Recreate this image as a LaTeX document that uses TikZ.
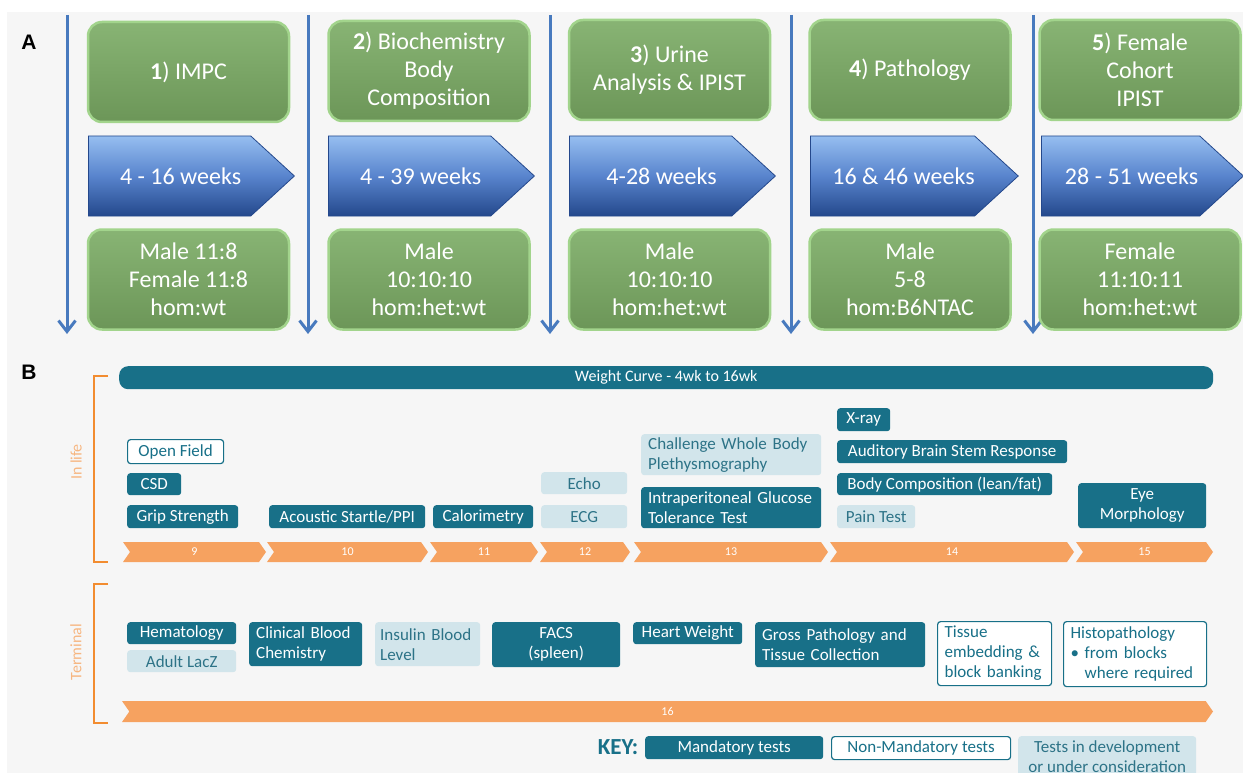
\documentclass[tikz,border=0pt]{standalone}
\usepackage{fontspec}
\setmainfont{Carlito}
\newfontfamily\panelfont{Liberation Sans}
\usetikzlibrary{
        arrows.meta,
        shapes.symbols
    }

\definecolor{bggray}{RGB}{246,246,246}
\definecolor{mandteal}{RGB}{24,112,136}
\definecolor{devfill}{RGB}{210,229,235}
\definecolor{devtext}{RGB}{45,115,135}
\definecolor{chevorange}{RGB}{246,162,96}
\definecolor{brkorange}{RGB}{242,140,48}
\definecolor{lblorange}{RGB}{246,182,128}
\definecolor{grntop}{RGB}{136,180,116}
\definecolor{grnbot}{RGB}{108,150,88}
\definecolor{grnedge}{RGB}{162,212,140}
\definecolor{arrowblue}{RGB}{72,122,190}
\definecolor{pentop}{RGB}{150,190,240}
\definecolor{penmid}{RGB}{88,132,205}
\definecolor{penbot}{RGB}{36,72,140}

\tikzset{x=1pt,y=-1pt}
% panel A: study stages
\tikzset{
    stage/.style={rounded corners=14pt,draw=grnedge,line width=2.5pt,
        top color=grntop,bottom color=grnbot,text=white,align=center,
        font=\fontsize{24}{28}\selectfont,minimum width=201,minimum height=100,inner sep=0pt},
    weeks/.style={signal,signal to=east,signal pointer angle=85,draw=penbot,line width=0.8pt,
        top color=pentop,bottom color=penbot,middle color=penmid,text=white,anchor=west,
        font=\fontsize{24}{28}\selectfont,minimum width=206,minimum height=80,inner sep=0pt,
        execute at begin node=\hspace*{22pt}},
    sep/.style={draw=arrowblue,line width=3pt,-{Straight Barb[length=11pt,width=17pt]}},
    panel/.style={font=\panelfont\bfseries\fontsize{21}{21}\selectfont}
}
% panel B: test pipeline
\tikzset{
    tbox/.style={anchor=north west,rounded corners=3pt,inner xsep=7pt,inner ysep=0pt,
        align=center,font=\fontsize{17}{20}\selectfont},
    mand/.style={tbox,fill=mandteal,text=white},
    nonmand/.style={tbox,fill=white,draw=mandteal,line width=1.2pt,text=mandteal},
    devel/.style={tbox,fill=devfill,text=devtext},
    chev/.style={signal,signal from=west,signal to=east,signal pointer angle=110,
        fill=chevorange,text=white,font=\fontsize{12}{12}\selectfont,
        minimum height=20,inner sep=0pt},
    brk/.style={draw=brkorange,line width=2.5pt},
    phase/.style={rotate=90,text=lblorange,font=\fontsize{16}{16}\selectfont}
}

\begin{document}
\begin{tikzpicture}
\useasboundingbox (0,0) rectangle (1243,773);
\fill[white] (0,0) rectangle (1243,773);
\fill[bggray] (7,12) rectangle (1243,773);

% ---- A ----
\node[panel] (pa) at (29,42) {A};
\draw[sep] (67,15) -- (67,334);
\draw[sep] (308,15) -- (308,334);
\draw[sep] (550,15) -- (550,334);
\draw[sep] (791,15) -- (791,334);
\draw[sep] (1033,15) -- (1033,334);

\node[stage] (s1) at (188.5,72) {\textbf{1}) IMPC};
\node[weeks] (w1) at (88,176) {4 - 16 weeks};
\node[stage] (g1) at (188.5,279.5) {Male 11:8\\Female 11:8\\hom:wt};

\node[stage] (s2) at (429,71) {\textbf{2}) Biochemistry\\Body\\Composition};
\node[weeks] (w2) at (328,176) {4 - 39 weeks};
\node[stage] (g2) at (429,279.5) {Male\\10:10:10\\hom:het:wt};

\node[stage] (s3) at (669.5,70) {\textbf{3}) Urine\\Analysis \& IPIST};
\node[weeks] (w3) at (569,176) {4-28 weeks};
\node[stage] (g3) at (669.5,279.5) {Male\\10:10:10\\hom:het:wt};

\node[stage] (s4) at (910,70) {\textbf{4}) Pathology};
\node[weeks] (w4) at (810,176) {16 \& 46 weeks};
\node[stage] (g4) at (910,279.5) {Male\\5-8\\hom:B6NTAC};

\node[stage] (s5) at (1140,70) {\textbf{5}) Female\\Cohort\\IPIST};
\node[weeks,minimum width=202] (w5) at (1041,176) {28 - 51 weeks};
\node[stage] (g5) at (1140,279.5) {Female\\11:10:11\\hom:het:wt};

% ---- B ----
\node[panel] (pb) at (29,372) {B};
\draw[brk] (108,376) -- (94,376) -- (94,562) -- (108,562);
\draw[brk] (108,584) -- (94,584) -- (94,723) -- (108,723);
\node[phase] (inlife) at (76,462) {In life};
\node[phase] (term) at (76,652) {Terminal};

\node[mand,minimum width=1094,minimum height=23,rounded corners=9pt,
    font=\fontsize{16}{16}\selectfont] (wcurve) at (119,366) {Weight Curve - 4wk to 16wk};

% in life tests
\node[nonmand,minimum width=96,minimum height=24] (openf) at (127,439) {Open Field};
\node[mand,minimum width=54,minimum height=22] (csd) at (127,473) {CSD};
\node[mand,minimum width=111,minimum height=23] (grip) at (127,505) {Grip Strength};
\node[mand,minimum width=156,minimum height=23] (acou) at (269,505) {Acoustic Startle/PPI};
\node[mand,minimum width=100,minimum height=23] (calo) at (433,505) {Calorimetry};
\node[devel,minimum width=86,minimum height=22] (echo) at (541,472) {Echo};
\node[devel,minimum width=86,minimum height=23] (ecg) at (541,505) {ECG};
\node[devel,text width=166,align=left,minimum height=41] (chall) at (641,434) {Challenge Whole Body\\Plethysmography};
\node[mand,text width=166,align=left,minimum height=41] (ipgtt) at (641,487) {Intraperitoneal Glucose\\Tolerance Test};
\node[mand,minimum width=53,minimum height=23] (xray) at (837,408) {X-ray};
\node[mand,minimum width=230,minimum height=23] (abr) at (837,440) {Auditory Brain Stem Response};
\node[mand,minimum width=215,minimum height=22] (bodyc) at (837,473) {Body Composition (lean/fat)};
\node[devel,minimum width=78,minimum height=23] (pain) at (837,505) {Pain Test};
\node[mand,minimum width=128,minimum height=45] (eye) at (1078,483) {Eye\\Morphology};

% week chevrons
\node[chev,minimum width=143] (c9) at (194.5,552) {9};
\node[chev,minimum width=161] (c10) at (347.5,552) {10};
\node[chev,minimum width=108] (c11) at (484,552) {11};
\node[chev,minimum width=90] (c12) at (585,552) {12};
\node[chev,minimum width=194] (c13) at (731,552) {13};
\node[chev,minimum width=244] (c14) at (952,552) {14};
\node[chev,minimum width=137] (c15) at (1144.5,552) {15};

% terminal tests
\node[mand,minimum width=109,minimum height=22] (hema) at (127,622) {Hematology};
\node[devel,minimum width=109,minimum height=22] (lacz) at (127,650) {Adult LacZ};
\node[mand,text width=99,align=left,minimum height=44] (clin) at (249,622) {Clinical Blood\\Chemistry};
\node[devel,inner xsep=5pt,text width=95,align=left,minimum height=44] (insu) at (375,622) {Insulin Blood\\Level};
\node[mand,minimum width=128,minimum height=45] (facs) at (492,622) {FACS\\(spleen)};
\node[mand,minimum width=109,minimum height=22] (heart) at (633,622) {Heart Weight};
\node[mand,text width=156,align=left,minimum height=45] (gross) at (755,622) {Gross Pathology and\\Tissue Collection};
\node[nonmand,text width=100,align=left,minimum height=64] (tissue) at (937,621) {Tissue\\embedding \&\\block banking};
\node[nonmand,text width=129,align=left,minimum height=65] (histo) at (1063,621) {Histopathology\\\textbullet\ from blocks\\\phantom{\textbullet\ }where required};

\node[chev,minimum width=1091,minimum height=21] (c16) at (667.5,711.5) {16};

% key
\node[text=mandteal,font=\bfseries\fontsize{23}{23}\selectfont] (keylbl) at (618,747) {KEY:};
\node[mand,minimum width=178,minimum height=23] (keymand) at (645,736) {Mandatory tests};
\node[nonmand,minimum width=179,minimum height=23] (keynon) at (831,736) {Non-Mandatory tests};
\node[devel,minimum width=178,minimum height=40] (keydev) at (1018,736) {Tests in development\\or under consideration};
\end{tikzpicture}
\end{document}
